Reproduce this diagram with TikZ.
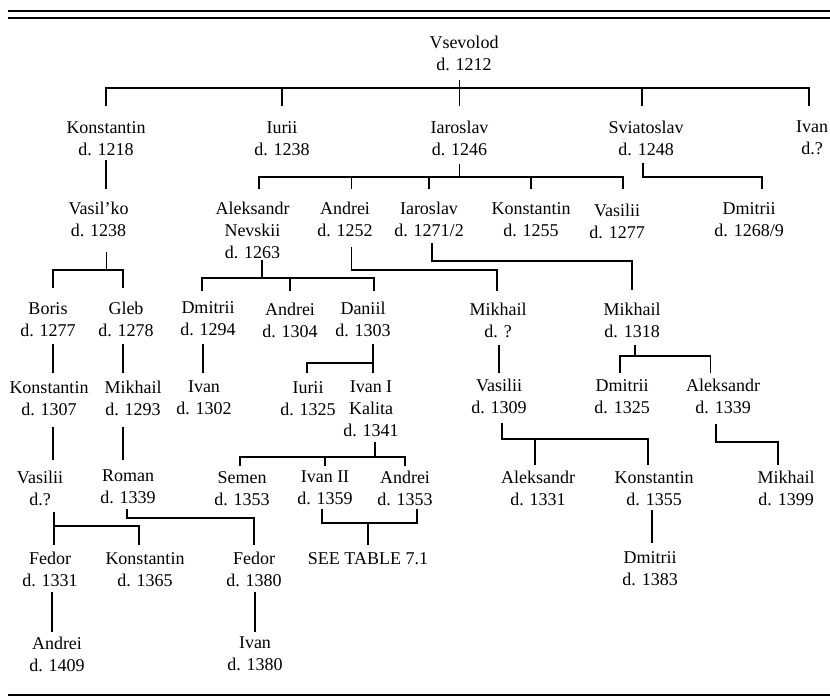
\documentclass[tikz,border=0pt]{standalone}
\usepackage{fontspec}
\setmainfont{Liberation Serif}
\tikzset{
  person/.style={anchor=north, align=center, inner sep=0pt, font=\fontsize{18}{22}\selectfont},
  link/.style={line width=1.1pt},
  rulebar/.style={line width=2pt}
}
\begin{document}
\begin{tikzpicture}[x=1pt,y=-1pt]
\useasboundingbox (0,0) rectangle (830,696);
% rules
\draw[rulebar] (8,11) -- (830,11);
\draw[rulebar] (8,17.6) -- (830,17.6);
\draw[rulebar] (8,695) -- (830,695);

% row 1
\node[person] (vsev) at (464,36) {Vsevolod\\d. 1212};
% row 2
\node[person] (kon1) at (106,121) {Konstantin\\d. 1218};
\node[person] (iur) at (282,121) {Iurii\\d. 1238};
\node[person] (iar) at (459.5,121) {Iaroslav\\d. 1246};
\node[person] (svi) at (646,121) {Sviatoslav\\d. 1248};
\node[person] (ivan1) at (812,121) {Ivan\\d.?};
% row 3
\node[person] (vasko) at (98.5,202) {Vasil'ko\\d. 1238};
\node[person] (alex) at (252.5,202) {Aleksandr\\Nevskii\\d. 1263};
\node[person] (andr1) at (345,202) {Andrei\\d. 1252};
\node[person] (iar2) at (429,202) {Iaroslav\\d. 1271/2};
\node[person] (kon2) at (531,202) {Konstantin\\d. 1255};
\node[person] (vasi1) at (617,204) {Vasilii\\d. 1277};
\node[person] (dmi1) at (749,202) {Dmitrii\\d. 1268/9};
% row 4
\node[person] (boris) at (48,302) {Boris\\d. 1277};
\node[person] (gleb) at (126,302) {Gleb\\d. 1278};
\node[person] (dmi2) at (208,301) {Dmitrii\\d. 1294};
\node[person] (andr2) at (290,303) {Andrei\\d. 1304};
\node[person] (dan) at (363,302) {Daniil\\d. 1303};
\node[person] (mikh1) at (498,303) {Mikhail\\d. ?};
\node[person] (mikh2) at (632,303) {Mikhail\\d. 1318};
% row 5
\node[person] (kon3) at (49,381) {Konstantin\\d. 1307};
\node[person] (mikh3) at (133,381) {Mikhail\\d. 1293};
\node[person] (ivan2) at (204,381) {Ivan\\d. 1302};
\node[person] (iur2) at (308,381) {Iurii\\d. 1325};
\node[person] (ivanI) at (371,381) {Ivan I\\Kalita\\d. 1341};
\node[person] (vasi2) at (499,379) {Vasilii\\d. 1309};
\node[person] (dmi3) at (622,379) {Dmitrii\\d. 1325};
\node[person] (alex2) at (723,379) {Aleksandr\\d. 1339};
% row 6
\node[person] (vasi3) at (40,471) {Vasilii\\d.?};
\node[person] (roman) at (128,470) {Roman\\d. 1339};
\node[person] (semen) at (242,471) {Semen\\d. 1353};
\node[person] (ivanII) at (325,471) {Ivan II\\d. 1359};
\node[person] (andr3) at (405,471) {Andrei\\d. 1353};
\node[person] (alex3) at (538,471) {Aleksandr\\d. 1331};
\node[person] (kon4) at (654,471) {Konstantin\\d. 1355};
\node[person] (mikh4) at (786,471) {Mikhail\\d. 1399};
% row 7
\node[person] (fedor1) at (50,552) {Fedor\\d. 1331};
\node[person] (kon5) at (145,552) {Konstantin\\d. 1365};
\node[person] (fedor2) at (254,552) {Fedor\\d. 1380};
\node[person] (see) at (368,552) {SEE TABLE 7.1};
\node[person] (dmi4) at (650,551) {Dmitrii\\d. 1383};
% row 8
\node[person] (andr4) at (57,637) {Andrei\\d. 1409};
\node[person] (ivan3) at (255,637) {Ivan\\d. 1380};

% Vsevolod's sons
\draw[link] ([xshift=-4.5pt]vsev.south |- 0,80) -- (iar.north |- 0,106);
\draw[link] (kon1.north |- 0,106) -- (kon1.north |- 0,88) -- ([xshift=-3pt]ivan1.north |- 0,88) -- ([xshift=-3pt]ivan1.north |- 0,106);
\draw[link] (iur.north |- 0,88) -- (iur.north |- 0,106);
\draw[link] ([xshift=-4pt]svi.north |- 0,88) -- ([xshift=-4pt]svi.north |- 0,106);
% Konstantin -> Vasil'ko
\draw[link] (kon1.south |- 0,160) -- (kon1.south |- 0,189);
% Iaroslav's sons
\draw[link] (iar.south |- 0,164) -- (iar.south |- 0,177);
\draw[link] ([xshift=6.5pt]alex.north |- 0,189) -- ([xshift=6.5pt]alex.north |- 0,177) -- ([xshift=6pt]vasi1.north |- 0,177) -- ([xshift=6pt]vasi1.north |- 0,189);
\draw[link] ([xshift=6.5pt]andr1.north |- 0,177) -- ([xshift=6.5pt]andr1.north |- 0,189);
\draw[link] (iar2.north |- 0,177) -- (iar2.north |- 0,189);
\draw[link] (kon2.north |- 0,177) -- (kon2.north |- 0,189);
% Sviatoslav -> Dmitrii
\draw[link] ([xshift=-3pt]svi.south |- 0,163) |- ([xshift=13pt]dmi1.north |- 0,177) -- ([xshift=13pt]dmi1.north |- 0,189);
% Vasil'ko's sons
\draw[link] ([xshift=8pt]vasko.south |- 0,252) -- ([xshift=8pt]vasko.south |- 0,270);
\draw[link] ([xshift=5pt]boris.north |- 0,288) -- ([xshift=5pt]boris.north |- 0,270) -- ([xshift=-3pt]gleb.north |- 0,270) -- ([xshift=-3pt]gleb.north |- 0,288);
% Nevskii's sons
\draw[link] ([xshift=9.5pt]alex.south |- 0,260) -- ([xshift=9.5pt]alex.south |- 0,278);
\draw[link] ([xshift=-6pt]dmi2.north |- 0,291) -- ([xshift=-6pt]dmi2.north |- 0,278) -- ([xshift=11pt]dan.north |- 0,278) -- ([xshift=11pt]dan.north |- 0,291);
\draw[link] (andr2.north |- 0,278) -- (andr2.north |- 0,291);
% Andrei -> Mikhail
\draw[link] ([xshift=6.5pt]andr1.south |- 0,247) |- ([xshift=-1pt]mikh1.north |- 0,270) -- ([xshift=-1pt]mikh1.north |- 0,291);
% Iaroslav -> Mikhail
\draw[link] ([xshift=3pt]iar2.south |- 0,243) |- (mikh2.north |- 0,261) -- (mikh2.north |- 0,290);
% Boris, Gleb
\draw[link] ([xshift=5pt]boris.south |- 0,344) -- ([xshift=5pt]boris.south |- 0,373);
\draw[link] ([xshift=-3pt]gleb.south |- 0,344) -- ([xshift=-3pt]gleb.south |- 0,373);
% Dmitrii -> Ivan
\draw[link] ([xshift=-5pt]dmi2.south |- 0,344) -- ([xshift=-5pt]dmi2.south |- 0,373);
% Daniil's sons
\draw[link] ([xshift=10pt]dan.south |- 0,344) -- ([xshift=10pt]dan.south |- 0,373);
\draw[link] ([xshift=10pt]dan.south |- 0,363) -| ([xshift=-1pt]iur2.north |- 0,373);
% Mikhail -> Vasilii
\draw[link] ([xshift=1pt]mikh1.south |- 0,345) -- ([xshift=1pt]mikh1.south |- 0,373);
% Mikhail's sons
\draw[link] ([xshift=3pt]mikh2.south |- 0,345) -- ([xshift=3pt]mikh2.south |- 0,356);
\draw[link] ([xshift=-2pt]dmi3.north |- 0,373) -- ([xshift=-2pt]dmi3.north |- 0,356) -- ([xshift=-12.5pt]alex2.north |- 0,356) -- ([xshift=-12.5pt]alex2.north |- 0,373);
% Konstantin -> Vasilii ; Mikhail -> Roman
\draw[link] ([xshift=4pt]kon3.south |- 0,427) -- ([xshift=4pt]kon3.south |- 0,460);
\draw[link] ([xshift=-10pt]mikh3.south |- 0,427) -- ([xshift=-10pt]mikh3.south |- 0,460);
% Kalita's sons
\draw[link] ([xshift=4pt]ivanI.south |- 0,442) -- ([xshift=4pt]ivanI.south |- 0,457);
\draw[link] ([xshift=-2pt]semen.north |- 0,466) -- ([xshift=-2pt]semen.north |- 0,457) -- (andr3.north |- 0,457) -- (andr3.north |- 0,466);
\draw[link] (ivanII.north |- 0,457) -- (ivanII.north |- 0,466);
% Vasilii's sons
\draw[link] ([xshift=3pt]vasi2.south |- 0,423) |- ([xshift=-6pt]kon4.north |- 0,439) -- ([xshift=-6pt]kon4.north |- 0,465);
\draw[link] ([xshift=-3pt]alex3.north |- 0,439) -- ([xshift=-3pt]alex3.north |- 0,465);
% Aleksandr -> Mikhail
\draw[link] ([xshift=-7pt]alex2.south |- 0,424) |- ([xshift=-8pt]mikh4.north |- 0,442) -- ([xshift=-8pt]mikh4.north |- 0,465);
% Vasilii d.? sons
\draw[link] ([xshift=4pt]fedor1.north |- 0,512) -- ([xshift=4pt]fedor1.north |- 0,545);
\draw[link] ([xshift=4pt]fedor1.north |- 0,526) -| ([xshift=-6pt]kon5.north |- 0,545);
% Roman -> Fedor
\draw[link] ([xshift=-1pt]roman.south |- 0,509) |- (fedor2.north |- 0,518) -- (fedor2.north |- 0,545);
% Ivan II, Andrei -> see table
\draw[link] ([xshift=-3pt]ivanII.south |- 0,509) |- ([xshift=12pt]andr3.south |- 0,523) -- ([xshift=12pt]andr3.south |- 0,509);
\draw[link] (see.north |- 0,523) -- (see.north |- 0,545);
% Konstantin -> Dmitrii
\draw[link] ([xshift=-2pt]kon4.south |- 0,510) -- ([xshift=-2pt]kon4.south |- 0,543);
% Fedor -> Andrei ; Fedor -> Ivan
\draw[link] ([xshift=2pt]fedor1.south |- 0,592) -- ([xshift=2pt]fedor1.south |- 0,632);
\draw[link] ([xshift=1pt]fedor2.south |- 0,592) -- ([xshift=1pt]fedor2.south |- 0,632);
\end{tikzpicture}
\end{document}
